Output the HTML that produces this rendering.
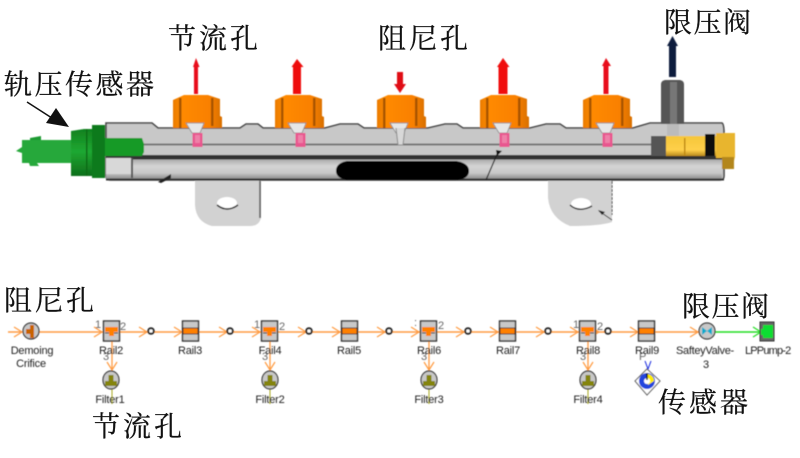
<!DOCTYPE html>
<html>
<head>
<meta charset="utf-8">
<style>
html,body{margin:0;padding:0;background:#fff;width:800px;height:458px;overflow:hidden}
svg{display:block}
.cn{font-family:"Liberation Serif","Noto Serif CJK SC",serif;font-size:28px;fill:#111;stroke:#111;stroke-width:.25px}
.lb{font-family:"Liberation Sans",sans-serif;font-size:11px;fill:#222;text-anchor:middle;letter-spacing:-.2px}
.pt{font-family:"Liberation Sans",sans-serif;font-size:11px;fill:#666}
</style>
</head>
<body>
<svg width="800" height="458" viewBox="0 0 800 458" xmlns="http://www.w3.org/2000/svg">
<defs>
<linearGradient id="tube" x1="0" y1="0" x2="0" y2="1">
  <stop offset="0" stop-color="#a8a8a8"/><stop offset=".35" stop-color="#d4d4d4"/><stop offset=".7" stop-color="#c8c8c8"/><stop offset="1" stop-color="#8a8a8a"/>
</linearGradient>
<linearGradient id="or" x1="0" y1="0" x2="1" y2="0">
  <stop offset="0" stop-color="#e87a00"/><stop offset=".2" stop-color="#ff8a05"/><stop offset=".75" stop-color="#f98000"/><stop offset="1" stop-color="#d87000"/>
</linearGradient>
<linearGradient id="gr" x1="0" y1="0" x2="0" y2="1">
  <stop offset="0" stop-color="#0d7a1b"/><stop offset=".5" stop-color="#20a832"/><stop offset="1" stop-color="#0b6a18"/>
</linearGradient>
<linearGradient id="yl" x1="0" y1="0" x2="0" y2="1">
  <stop offset="0" stop-color="#f5c63a"/><stop offset=".7" stop-color="#ffd04a"/><stop offset="1" stop-color="#b98a1d"/>
</linearGradient>
<filter id="b1"><feGaussianBlur stdDeviation=".55"/></filter>
<filter id="b2"><feGaussianBlur stdDeviation=".45"/></filter>
<g id="inj">
  <path d="M-23 32 L-23 4 L-12 -1 L12 -1 L24 3 L24 20 L26 21 L26 32 L-24 32Z" fill="url(#or)"/>
  <rect x="-17" y="2" width="2.500" height="30" fill="#a85400"/>
  <rect x="15" y="2" width="2.500" height="28" fill="#a85400"/>
  <path d="M-10 27 L8 27 L4 37 L-4 37Z" fill="#e6e6e6" stroke="#888" stroke-width=".8"/>
</g>
<g id="pk"><rect x="-4.500" y="37" width="10" height="14" fill="#e8578f"/><rect x="-2" y="39" width="5" height="8" fill="#ee80a8"/></g>
<g id="rl"><rect x="-8.500" y="-10" width="16" height="20" fill="#c8c8c8" stroke="#333" stroke-width="1.400"/><rect x="-8" y="-3" width="15" height="6" fill="#ff8000" stroke="#222" stroke-width=".8"/></g>
<g id="rt"><rect x="-8.500" y="-10" width="16" height="20" fill="#c8c8c8" stroke="#333" stroke-width="1.400"/><path d="M-7 -4H6V1H2V5H-3V1H-7Z" fill="#ff8000"/><path d="M-7 2H-3M2 2H6" stroke="#222"/></g>
<g id="fl"><ellipse rx="8" ry="9" fill="#c8c8c8" stroke="#333" stroke-width="1.200"/><path d="M-6 6V1H-2.500V-5H2.500V1H6V6Z" fill="#84840c"/></g>
<g id="ch"><path d="M-9 -5L-1 0L-9 5" fill="none" stroke="#ff9a40" stroke-width="1.200"/></g>
<g id="dot"><circle r="2.800" fill="#fff" stroke="#222" stroke-width="2"/></g>
</defs>

<g filter="url(#b1)">
  <!-- main rail body -->
  <path d="M106 123H152L158 128H172V128H222L240 128L246 124H258L263 128H325L340 124H358L364 128H428L445 124H457L463 128H530L546 124H560L566 128H633L650 123H722Q724 124 724 134V176Q724 180 720 180H110Q106 180 106 176Z" fill="#c8c8c8" stroke="#444" stroke-width="1.600"/>
  <rect x="106" y="159" width="616" height="20" fill="url(#tube)"/>
  <rect x="106" y="143.500" width="546" height="2" fill="#777"/>
  <rect x="106" y="155" width="618" height="4.500" fill="#333"/>
  <rect x="106" y="158" width="25" height="16" fill="#d8d8d8"/>
  <rect x="131" y="158" width="2" height="20" fill="#555"/>
  <rect x="106" y="178.500" width="618" height="2" fill="#333"/>
  <path d="M347 161H456Q469 163 469 171Q469 179 456 180H347Q336 178 336 171Q336 163 347 161Z" fill="#050505"/>

  <!-- brackets -->
  <path d="M195 181H261V218Q259 226 250 226H212Q196 222 195 205Z" fill="#d2d2d2"/>
  <path d="M260 181V218" stroke="#555" stroke-width="1.500"/>
  <ellipse cx="227" cy="203" rx="10" ry="6" fill="#fff"/>
  <path d="M217 205Q227 213 238 205" fill="none" stroke="#222" stroke-width="1.500"/>
  <path d="M548 181H612V222Q600 226 570 226Q550 218 548 198Z" fill="#d2d2d2"/>
  <path d="M612 181V215" stroke="#444" stroke-width="1" stroke-dasharray="3 1"/>
  <ellipse cx="581" cy="204" rx="10" ry="6" fill="#fff"/>
  <path d="M570 205Q579 213 592 206" fill="none" stroke="#222" stroke-width="1.500"/>
  <path d="M599 211L612 220" stroke="#333" stroke-width="1"/>
  <path d="M598 210L605 212L602 215Z" fill="#222"/>

  <!-- injectors -->
  <use href="#inj" x="196" y="96"/><use href="#pk" x="197" y="96"/>
  <use href="#inj" x="298" y="96"/><use href="#pk" x="300" y="96"/>
  <use href="#inj" x="400" y="96"/>
  <path d="M396 128L398 145H403L405 128" fill="#d8d8d8" stroke="#888"/>
  <use href="#inj" x="503" y="96"/><use href="#pk" x="504" y="96"/>
  <use href="#inj" x="606" y="96"/><use href="#pk" x="607" y="96"/>

  <!-- red arrows -->
  <path d="M194 94V67H193L196 58L199.500 67H198V94Z" fill="#e8101a"/>
  <path d="M293 94V67H291.500L297 59L303.500 67H301V94Z" fill="#ee1111"/>
  <path d="M397 72H403V84H406L400 93L394 84H397Z" fill="#e01018"/>
  <path d="M498.500 94V67H497L503 58L509.500 67H507.500V94Z" fill="#f01010"/>
  <path d="M603.500 94V66H602L606 58L611 66H608.500V94Z" fill="#e8101a"/>
  <!-- dark arrow & valve -->
  <path d="M669 77V46H667L672.500 36L678 46H676V77Z" fill="#0e1c3e"/>
  <path d="M661 84Q661 81 665 80H680Q684 81 684 84V124H661Z" fill="#555"/>
  <rect x="670" y="82" width="7" height="42" fill="#777"/>
  <rect x="667" y="124" width="12" height="12" fill="#bbb"/>

  <!-- safety valve end -->
  <rect x="651" y="136" width="16" height="20" fill="#555"/>
  <rect x="666" y="136" width="50" height="20" fill="url(#yl)"/>
  <rect x="705" y="134" width="10" height="22" fill="#0a0a0a"/>
  <path d="M716 133H735V157L732 169H723V158H716Z" fill="#e8b52f"/>
  <rect x="722" y="157" width="12" height="12" fill="#b3861b"/>
  <rect x="684" y="138" width="1.500" height="18" fill="#c08a10"/>

  <!-- green sensor -->
  <path d="M22 140H71V163H37L39 166H30L29 163H22L22 153L16 151L22 147Z" fill="#28a83a"/>
  <path d="M30 138L41 136V140H30Z" fill="#1e9a30"/>
  <path d="M71 131L84 129H92V125H105V178H92V176H71Z" fill="url(#gr)"/>
  <rect x="92" y="125" width="13" height="53" fill="#0d7a1b"/>
  <rect x="86" y="129" width="1.500" height="47" fill="#0a6a16"/>
  <path d="M105 138H142L144 144V152L142 156H105Z" fill="#149a28"/>

  <!-- small black ticks -->
  <path d="M158 182L171 174V178L161 183Z" fill="#222"/>
  <path d="M486 180L498 152" stroke="#222" stroke-width="1.200"/>
  <path d="M496 150L502 151L497 156Z" fill="#111"/>
</g>

<!-- sensor pointer -->
<path d="M27 102L55 120" stroke="#111" stroke-width="1.500"/>
<path d="M69 127L46 123L56 108Z" fill="#111"/>

<!-- Chinese labels upper -->
<text class="cn" x="168" y="48" textLength="90" lengthAdjust="spacing">节流孔</text>
<text class="cn" x="378" y="48" textLength="90" lengthAdjust="spacing">阻尼孔</text>
<text class="cn" x="664" y="32" textLength="87" lengthAdjust="spacing">限压阀</text>
<text class="cn" x="4" y="94" textLength="150" lengthAdjust="spacing">轨压传感器</text>

<!-- lower schematic -->
<g filter="url(#b2)">
  <path d="M8 332H700" stroke="#ff9a40" stroke-width="1.500"/>
  <path d="M700 332H762" stroke="#22dd22" stroke-width="1.500"/>
  <path d="M112 340V370M270 340V370M429 340V370M588 340V370" stroke="#ff9a40" stroke-width="1.300"/>
  <path d="M112 388V404M270 388V404M429 388V404M588 388V404" stroke="#a8a820" stroke-width="1"/>

  <use href="#ch" x="23" y="332"/><use href="#ch" x="103" y="332"/>
  <use href="#ch" x="148" y="332"/><use href="#ch" x="183" y="332"/>
  <use href="#ch" x="228" y="332"/><use href="#ch" x="261" y="332"/>
  <use href="#ch" x="307" y="332"/><use href="#ch" x="341" y="332"/>
  <use href="#ch" x="386" y="332"/><use href="#ch" x="420" y="332"/>
  <use href="#ch" x="465" y="332"/><use href="#ch" x="499" y="332"/>
  <use href="#ch" x="545" y="332"/><use href="#ch" x="579" y="332"/>
  <use href="#ch" x="600" y="332"/><use href="#ch" x="639" y="332"/>
  <use href="#ch" x="699" y="332"/>
  <path d="M753 327L761 332L753 337" fill="none" stroke="#22dd22" stroke-width="1.200"/>
  <path d="M107 362L112 370L117 362M265 362L270 370L275 362M424 362L429 370L434 362M583 362L588 370L593 362" fill="none" stroke="#ff9a40" stroke-width="1.200"/>

  <circle cx="31" cy="331" r="8" fill="#c8c8c8" stroke="#333" stroke-width="1.200"/>
  <path d="M26 329H30V325H34V338H30V334H26Z" fill="#c86400"/>

  <use href="#dot" x="151" y="331"/><use href="#dot" x="230" y="331"/>
  <use href="#dot" x="309" y="331"/><use href="#dot" x="389" y="331"/>
  <use href="#dot" x="468" y="331"/><use href="#dot" x="548" y="331"/>
  <use href="#dot" x="608" y="331"/>

  <use href="#rt" x="112" y="331"/><use href="#rl" x="191" y="331"/>
  <use href="#rt" x="270" y="331"/><use href="#rl" x="350" y="331"/>
  <use href="#rt" x="429" y="331"/><use href="#rl" x="508" y="331"/>
  <use href="#rt" x="588" y="331"/><use href="#rl" x="647" y="331"/>

  <use href="#fl" x="111" y="380"/><use href="#fl" x="270" y="380"/>
  <use href="#fl" x="429" y="380"/><use href="#fl" x="588" y="380"/>

  <circle cx="707" cy="331" r="8" fill="#c8c8c8" stroke="#333" stroke-width="1.200"/>
  <path d="M702 327L707 331L702 335ZM712 327L707 331L712 335Z" fill="#11aacc"/>

  <rect x="760" y="322" width="14" height="19" fill="#666" stroke="#333"/>
  <path d="M763 325H773V338H763V335H761V329H763Z" fill="#11dd33"/>

  <path d="M647 369L660 381L647 395L635 381Z" fill="#fff" stroke="#555"/>
  <circle cx="647" cy="381" r="8" fill="#2244dd"/>
  <path d="M647 374A7 7 0 0 1 654 381L648 385Z" fill="#ffee00"/>
  <circle cx="647" cy="381" r="3" fill="#fff"/>
  <path d="M647 373V380" stroke="#111" stroke-width="1.500"/>
  <path d="M645 361L648 369L651 361" fill="none" stroke="#1122dd" stroke-width="1"/>

  <text class="pt" x="95" y="328">1</text><text class="pt" x="120" y="330">2</text>
  <text class="pt" x="254" y="328">1</text><text class="pt" x="279" y="330">2</text>
  <text class="pt" x="414" y="326">:</text><text class="pt" x="438" y="329">2</text>
  <text class="pt" x="573" y="328">1</text><text class="pt" x="597" y="330">2</text>
  <text class="pt" x="103" y="360">3</text><text class="pt" x="262" y="360">3</text>
  <text class="pt" x="421" y="360">3</text><text class="pt" x="580" y="360">3</text>
  <text class="pt" x="639" y="360">P</text>

  <text class="lb" x="32" y="354">Demoing</text>
  <text class="lb" x="31" y="367">Crifice</text>
  <text class="lb" x="111" y="354">Rail2</text>
  <text class="lb" x="190" y="354">Rail3</text>
  <text class="lb" x="270" y="354">Fail4</text>
  <text class="lb" x="349" y="354">Rail5</text>
  <text class="lb" x="429" y="354">Rail6</text>
  <text class="lb" x="508" y="354">Rail7</text>
  <text class="lb" x="588" y="354">Rail8</text>
  <text class="lb" x="647" y="354">Rail9</text>
  <text class="lb" x="705" y="354" textLength="58" lengthAdjust="spacing">SafteyValve-</text>
  <text class="lb" x="706" y="368">3</text>
  <text class="lb" x="768" y="354" textLength="46" lengthAdjust="spacing">LPPump-2</text>
  <text class="lb" x="110" y="403">Filter1</text>
  <text class="lb" x="270" y="403">Filter2</text>
  <text class="lb" x="429" y="403">Filter3</text>
  <text class="lb" x="588" y="403">Filter4</text>
</g>

<!-- Chinese labels lower -->
<text class="cn" x="4" y="310" textLength="90" lengthAdjust="spacing">阻尼孔</text>
<text class="cn" x="92" y="436" textLength="90" lengthAdjust="spacing">节流孔</text>
<text class="cn" x="682" y="316" textLength="87" lengthAdjust="spacing">限压阀</text>
<text class="cn" x="658" y="412" textLength="90" lengthAdjust="spacing">传感器</text>
</svg>
</body>
</html>
